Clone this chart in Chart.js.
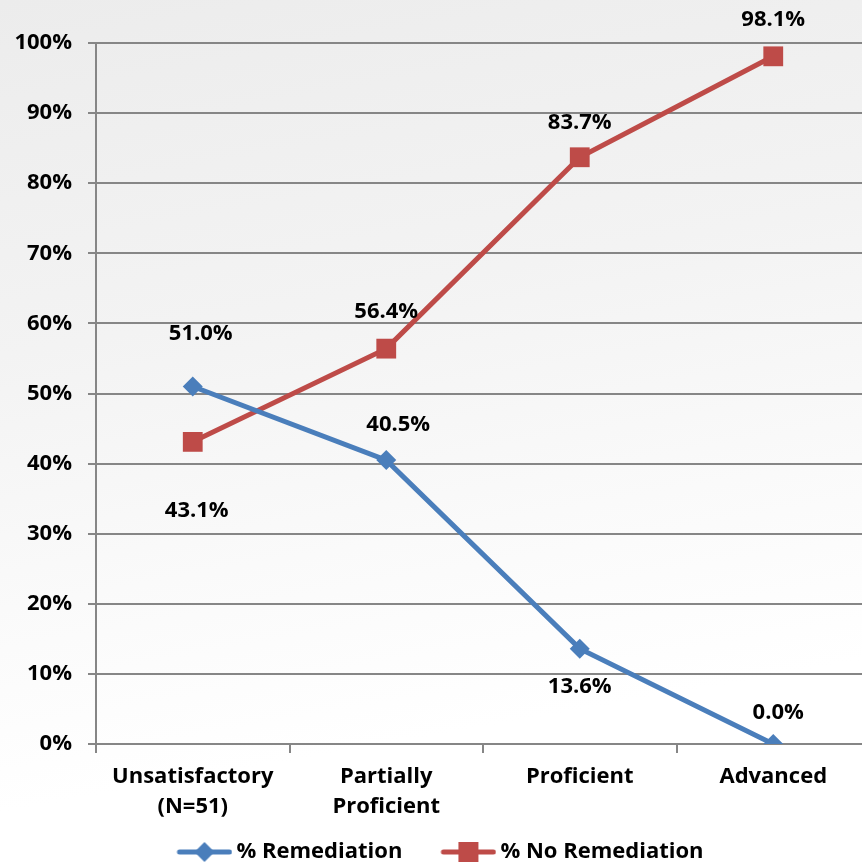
<!DOCTYPE html>
<html>
<head>
<meta charset="utf-8">
<script src="https://cdn.jsdelivr.net/npm/chart.js@4/dist/chart.umd.min.js"></script>
<style>
  html, body { margin: 0; padding: 0; overflow: hidden; }
  body {
    width: 862px; height: 864px;
    background: linear-gradient(170deg, #ececec 0%, #f3f3f3 35%, #fafafa 60%, #ffffff 80%);
  }
  #wrap { width: 884px; height: 873px; position: relative; }
  #chart { width: 884px; height: 873px; display: block; }
</style>
</head>
<body>
<div id="wrap"><canvas id="chart" width="884" height="873"></canvas></div>
<script>
// categories and values (percent)
const categories = [['Unsatisfactory', '(N=51)'], ['Partially', 'Proficient'], 'Proficient', 'Advanced'];
const remediation = [51.0, 40.5, 13.6, 0.0];
const noRemediation = [43.1, 56.4, 83.7, 98.1];
const yTicks = [0, 10, 20, 30, 40, 50, 60, 70, 80, 90, 100];

// where each value label sits, relative to its point
const remLabelOffset = [[8, -53], [12, -35], [0, 38], [5, -31]];
const noRemLabelOffset = [[4, 69], [0, -37], [0, -35], [0, -37]];

const BLUE = '#4A7EBB';
const RED = '#BE4B48';
const FONT = '"Open Sans", sans-serif';

// legend swatch: line with its marker (26px transparent on the left)
function legendSwatch(color, shape) {
  const c = document.createElement('canvas');
  c.width = 82; c.height = 22;
  const g = c.getContext('2d');
  g.strokeStyle = color;
  g.lineWidth = 5;
  g.lineCap = 'round';
  g.beginPath(); g.moveTo(29, 11); g.lineTo(79, 11); g.stroke();
  g.fillStyle = color;
  g.beginPath();
  if (shape === 'diamond') {
    g.moveTo(54, 1); g.lineTo(64, 11); g.lineTo(54, 21); g.lineTo(44, 11);
  } else {
    g.rect(44, 1, 20, 20);
  }
  g.closePath(); g.fill();
  return c;
}

const valueLabels = {
  id: 'valueLabels',
  afterDatasetsDraw(chart) {
    const ctx = chart.ctx;
    const offsets = [remLabelOffset, noRemLabelOffset];
    ctx.save();
    ctx.font = 'bold 22px ' + FONT;
    ctx.fillStyle = '#000';
    ctx.textAlign = 'center';
    ctx.textBaseline = 'middle';
    chart.data.datasets.forEach((ds, i) => {
      chart.getDatasetMeta(i).data.forEach((pt, j) => {
        const off = offsets[i][j];
        ctx.fillText(ds.data[j].toFixed(1) + '%', pt.x + off[0], pt.y + off[1]);
      });
    });
    ctx.restore();
  }
};

new Chart(document.getElementById('chart'), {
  type: 'line',
  data: {
    labels: categories,
    datasets: [
      {
        label: '% Remediation',
        data: remediation,
        borderColor: BLUE,
        backgroundColor: BLUE,
        borderWidth: 5,
        pointStyle: 'rectRot',
        pointRadius: 10,
        pointBorderWidth: 0,
        legendImg: legendSwatch(BLUE, 'diamond')
      },
      {
        label: '% No Remediation',
        data: noRemediation,
        borderColor: RED,
        backgroundColor: RED,
        borderWidth: 5,
        pointStyle: 'rect',
        pointRadius: 14,
        pointBorderWidth: 0,
        legendImg: legendSwatch(RED, 'square')
      }
    ]
  },
  options: {
    responsive: false,
    animation: false,
    layout: { padding: { top: 43, right: 0, left: -23, bottom: 0 } },
    plugins: {
      tooltip: { enabled: false },
      legend: {
        position: 'bottom',
        labels: {
          color: '#000',
          font: { family: FONT, size: 22, weight: 'bold' },
          usePointStyle: true,
          pointStyleWidth: 68,
          boxHeight: 22,
          padding: 19,
          generateLabels(chart) {
            return chart.data.datasets.map((ds, i) => ({
              text: ds.label,
              pointStyle: ds.legendImg,
              fillStyle: ds.borderColor,
              strokeStyle: ds.borderColor,
              lineWidth: 0,
              datasetIndex: i,
              fontColor: '#000'
            }));
          }
        }
      }
    },
    scales: {
      x: {
        offset: true,
        grid: { display: true, drawOnChartArea: false, offset: true, color: '#868686', lineWidth: 2, tickLength: 9 },
        border: { color: '#868686', width: 2 },
        ticks: { color: '#000', font: { family: FONT, size: 22, weight: 'bold', lineHeight: '30px' }, padding: 9, maxRotation: 0 },
        afterFit(scale) { scale.height = 78; }
      },
      y: {
        min: 0,
        max: 100,
        afterBuildTicks(scale) { scale.ticks = yTicks.map(v => ({ value: v })); },
        grid: { color: '#868686', lineWidth: 2, tickLength: 8 },
        border: { color: '#868686', width: 2 },
        ticks: {
          color: '#000',
          font: { family: FONT, size: 22, weight: 'bold' },
          padding: 16,
          callback: v => v + '%'
        },
        afterFit(scale) { scale.width = 119; }
      }
    }
  },
  plugins: [valueLabels]
});
</script>
</body>
</html>
